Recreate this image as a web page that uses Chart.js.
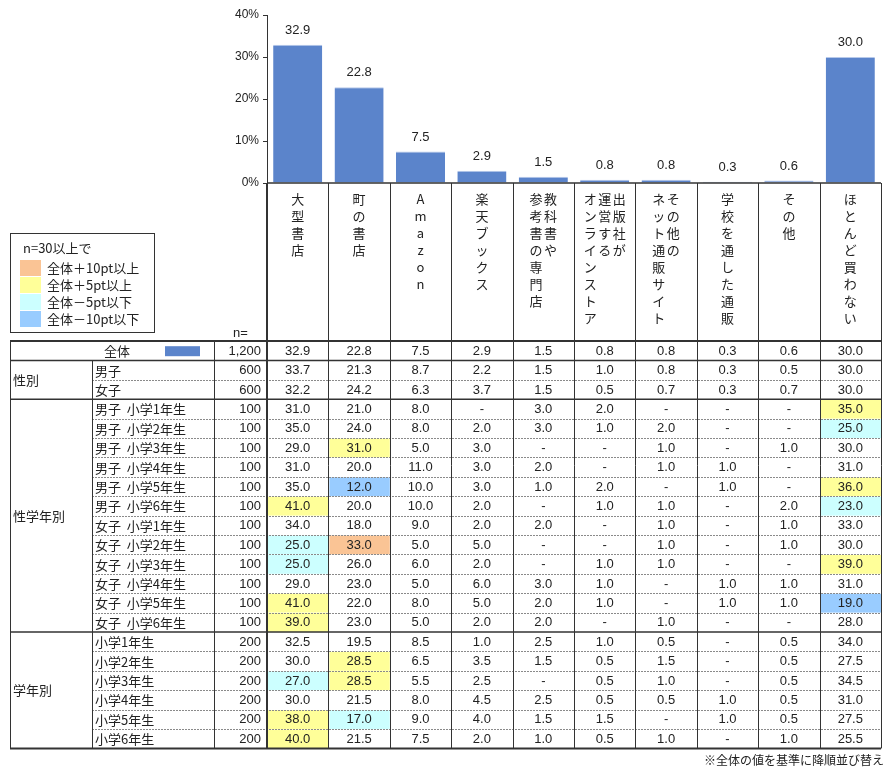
<!DOCTYPE html>
<html lang="ja">
<head>
<meta charset="utf-8">
<script src="https://cdn.jsdelivr.net/npm/chart.js@4.4.1/dist/chart.umd.min.js"></script>
<style>
  html, body { margin: 0; padding: 0; background: #fff; }
  #wrap { width: 886px; height: 772px; }
</style>
</head>
<body>
<div id="wrap"><canvas id="myChart" width="886" height="772"></canvas></div>
<script>
const ctx = document.getElementById('myChart');

// --- data ---
const categories = ['大型書店', '町の書店', 'Amazon', '楽天ブックス', '教科書や参考書の専門店',
  '出版社が運営するオンラインストア', 'その他のネット通販サイト', '学校を通した通販', 'その他', 'ほとんど買わない'];
// vertical label columns, right to left
const categoryColumns = [['大型書店'], ['町の書店'], ['Amazon'], ['楽天ブックス'], ['教科書や', '参考書の専門店'],
  ['出版社が', '運営する', 'オンラインストア'], ['その他の', 'ネット通販サイト'], ['学校を通した通販'], ['その他'], ['ほとんど買わない']];
const yTicks = [0, 10, 20, 30, 40];

const totalLabel = '全体';
const totalN = 1200;
const totalValues = [32.9, 22.8, 7.5, 2.9, 1.5, 0.8, 0.8, 0.3, 0.6, 30.0];

const genderGroup = '性別';
const genderLabels = ['男子', '女子'];
const genderN = [600, 600];
const genderValues = [
  [33.7, 21.3, 8.7, 2.2, 1.5, 1.0, 0.8, 0.3, 0.5, 30.0],
  [32.2, 24.2, 6.3, 3.7, 1.5, 0.5, 0.7, 0.3, 0.7, 30.0]
];

const genderGradeGroup = '性学年別';
const genderGradeLabels = ['男子  小学1年生', '男子  小学2年生', '男子  小学3年生', '男子  小学4年生', '男子  小学5年生', '男子  小学6年生',
  '女子  小学1年生', '女子  小学2年生', '女子  小学3年生', '女子  小学4年生', '女子  小学5年生', '女子  小学6年生'];
const genderGradeN = [100, 100, 100, 100, 100, 100, 100, 100, 100, 100, 100, 100];
const genderGradeValues = [
  [31.0, 21.0, 8.0, null, 3.0, 2.0, null, null, null, 35.0],
  [35.0, 24.0, 8.0, 2.0, 3.0, 1.0, 2.0, null, null, 25.0],
  [29.0, 31.0, 5.0, 3.0, null, null, 1.0, null, 1.0, 30.0],
  [31.0, 20.0, 11.0, 3.0, 2.0, null, 1.0, 1.0, null, 31.0],
  [35.0, 12.0, 10.0, 3.0, 1.0, 2.0, null, 1.0, null, 36.0],
  [41.0, 20.0, 10.0, 2.0, null, 1.0, 1.0, null, 2.0, 23.0],
  [34.0, 18.0, 9.0, 2.0, 2.0, null, 1.0, null, 1.0, 33.0],
  [25.0, 33.0, 5.0, 5.0, null, null, 1.0, null, 1.0, 30.0],
  [25.0, 26.0, 6.0, 2.0, null, 1.0, 1.0, null, null, 39.0],
  [29.0, 23.0, 5.0, 6.0, 3.0, 1.0, null, 1.0, 1.0, 31.0],
  [41.0, 22.0, 8.0, 5.0, 2.0, 1.0, null, 1.0, 1.0, 19.0],
  [39.0, 23.0, 5.0, 2.0, 2.0, null, 1.0, null, null, 28.0]
];

const gradeGroup = '学年別';
const gradeLabels = ['小学1年生', '小学2年生', '小学3年生', '小学4年生', '小学5年生', '小学6年生'];
const gradeN = [200, 200, 200, 200, 200, 200];
const gradeValues = [
  [32.5, 19.5, 8.5, 1.0, 2.5, 1.0, 0.5, null, 0.5, 34.0],
  [30.0, 28.5, 6.5, 3.5, 1.5, 0.5, 1.5, null, 0.5, 27.5],
  [27.0, 28.5, 5.5, 2.5, null, 0.5, 1.0, null, 0.5, 34.5],
  [30.0, 21.5, 8.0, 4.5, 2.5, 0.5, 0.5, 1.0, 0.5, 31.0],
  [38.0, 17.0, 9.0, 4.0, 1.5, 1.5, null, 1.0, 0.5, 27.5],
  [40.0, 21.5, 7.5, 2.0, 1.0, 0.5, 1.0, null, 1.0, 25.5]
];

const legendTitle = 'n=30以上で';
const legendLabels = ['全体＋10pt以上', '全体＋5pt以上', '全体－5pt以下', '全体－10pt以下'];
const footnote = '※全体の値を基準に降順並び替え';

// --- styles ---
const barColor = '#5b84cb';
const legendColors = ['#fac495', '#ffff99', '#ccffff', '#99ccff'];
const numFont = '13px "Liberation Sans Narrow", "Liberation Sans", "Noto Sans CJK JP", sans-serif';
const jpFont = '13px "Noto Sans CJK JP", sans-serif';
const lineColor = '#333';

function cellColor(v, base, n) {
  if (v == null || n < 30) return null;
  const d = Math.round((v - base) * 10) / 10;
  if (d >= 10) return legendColors[0];
  if (d >= 5) return legendColors[1];
  if (d <= -10) return legendColors[3];
  if (d <= -5) return legendColors[2];
  return null;
}

function fmt(v) {
  return v == null ? '-' : v.toFixed(1);
}

const groups = [
  { name: genderGroup, labels: genderLabels, n: genderN, values: genderValues },
  { name: genderGradeGroup, labels: genderGradeLabels, n: genderGradeN, values: genderGradeValues },
  { name: gradeGroup, labels: gradeLabels, n: gradeN, values: gradeValues }
];

const tableTop = 341;
const rowH = 19.4;
const colTable = 10, colSub = 92, colN = 214;

function line(c, x1, y1, x2, y2, w, color, dash) {
  c.save();
  c.beginPath();
  c.lineWidth = w;
  c.strokeStyle = color;
  c.setLineDash(dash || []);
  c.moveTo(x1, y1);
  c.lineTo(x2, y2);
  c.stroke();
  c.restore();
}

function drawVertical(c, text, cx, top, step) {
  Array.from(text).forEach((ch, i) => {
    c.fillText(ch, cx, top + i * step);
  });
}

const valueLabels = {
  id: 'valueLabels',
  afterDatasetsDraw(chart) {
    const c = chart.ctx;
    const meta = chart.getDatasetMeta(0);
    c.save();
    c.font = numFont;
    c.fillStyle = '#222';
    c.textAlign = 'center';
    c.textBaseline = 'bottom';
    meta.data.forEach((bar, i) => {
      c.fillText(totalValues[i].toFixed(1), bar.x, bar.y - 8);
    });
    c.restore();
  }
};

const crossTable = {
  id: 'crossTable',
  afterDraw(chart) {
    const c = chart.ctx;
    const xs = chart.scales.x;
    const ys = chart.scales.y;
    const colW = xs.getPixelForValue(1) - xs.getPixelForValue(0);
    const dataLeft = xs.getPixelForValue(0) - colW / 2;
    const right = dataLeft + colW * categories.length;
    const axisY = ys.getPixelForValue(0);
    const rowCount = 1 + groups.reduce((s, g) => s + g.labels.length, 0);
    const tableBottom = tableTop + rowCount * rowH;

    c.save();

    // header labels (vertical)
    c.font = jpFont;
    c.fillStyle = '#222';
    c.textAlign = 'center';
    c.textBaseline = 'middle';
    categoryColumns.forEach((cols, i) => {
      const cx = xs.getPixelForValue(i);
      const gap = 14.5;
      cols.forEach((txt, k) => {
        const off = ((cols.length - 1) / 2 - k) * gap;
        drawVertical(c, txt, cx + off, 199, 17);
      });
    });
    c.textAlign = 'left';
    c.font = numFont;
    c.fillText('n=', 233, 333);

    // legend box
    c.strokeStyle = lineColor;
    c.lineWidth = 1;
    c.strokeRect(10.5, 233.5, 144, 99);
    c.font = jpFont;
    c.fillStyle = '#222';
    c.fillText(legendTitle, 23, 248);
    legendLabels.forEach((lab, i) => {
      const yy = 260 + i * 17;
      c.fillStyle = legendColors[i];
      c.fillRect(20, yy, 21, 16);
      c.fillStyle = '#222';
      c.fillText(lab, 47, yy + 8.5);
    });

    // rows
    const rows = [{ label: totalLabel, n: totalN, values: totalValues, total: true }];
    const groupSpans = [];
    groups.forEach(g => {
      const start = rows.length;
      g.labels.forEach((lab, i) => rows.push({ label: lab, n: g.n[i], values: g.values[i] }));
      groupSpans.push({ name: g.name, start: start, end: rows.length });
    });

    // fills
    rows.forEach((r, ri) => {
      if (r.total) return;
      const top = tableTop + ri * rowH;
      r.values.forEach((v, ci) => {
        const col = cellColor(v, totalValues[ci], r.n);
        if (col) {
          c.fillStyle = col;
          c.fillRect(dataLeft + ci * colW + 1, top + 0.5, colW - 1, rowH - 0.5);
        }
      });
    });

    // texts
    c.textBaseline = 'middle';
    rows.forEach((r, ri) => {
      const cy = tableTop + ri * rowH + rowH / 2 + 0.5;
      c.fillStyle = '#222';
      c.font = jpFont;
      if (r.total) {
        c.textAlign = 'center';
        c.fillText(r.label, 117, cy);
        c.fillStyle = barColor;
        c.fillRect(165, cy - 5, 35, 10);
        c.fillStyle = '#222';
      } else {
        c.textAlign = 'left';
        c.fillText(r.label, colSub + 3, cy);
      }
      c.font = numFont;
      c.textAlign = 'right';
      c.fillText(r.n.toLocaleString('en-US'), dataLeft - 6, cy);
      c.textAlign = 'center';
      r.values.forEach((v, ci) => {
        c.fillText(fmt(v), xs.getPixelForValue(ci), cy);
      });
    });
    c.font = jpFont;
    c.textAlign = 'left';
    groupSpans.forEach(gs => {
      const cy = tableTop + (gs.start + gs.end) / 2 * rowH;
      c.fillText(gs.name, colTable + 3, cy);
    });

    // horizontal lines
    line(c, colTable, tableTop, right, tableTop, 2, lineColor);
    groupSpans.forEach(gs => {
      line(c, colTable, tableTop + gs.start * rowH, right, tableTop + gs.start * rowH, 1.5, lineColor);
      for (let k = gs.start + 1; k < gs.end; k++) {
        const yy = Math.round(tableTop + k * rowH) + 0.5;
        line(c, colSub, yy, right, yy, 1, '#8a8a8a', [2, 1]);
      }
    });
    line(c, colTable, tableBottom, right, tableBottom, 2, lineColor);

    // vertical lines
    line(c, colTable + 0.5, tableTop, colTable + 0.5, tableBottom, 1, lineColor);
    line(c, colSub + 0.5, tableTop + rowH, colSub + 0.5, tableBottom, 1, lineColor);
    line(c, colN + 0.5, tableTop, colN + 0.5, tableBottom, 1, lineColor);
    line(c, dataLeft, axisY, dataLeft, tableBottom, 2, lineColor);
    for (let i = 1; i <= categories.length; i++) {
      const xx = Math.round(dataLeft + i * colW) + 0.5;
      line(c, xx, axisY, xx, tableBottom, 1, lineColor);
    }
    line(c, dataLeft, axisY, right, axisY, 1.5, lineColor);

    // footnote
    c.font = '12px "Noto Sans CJK JP", sans-serif';
    c.fillStyle = '#222';
    c.textAlign = 'right';
    c.fillText(footnote, 884, 760);

    c.restore();
  }
};

new Chart(ctx, {
  type: 'bar',
  data: {
    labels: categories,
    datasets: [{
      label: totalLabel,
      data: totalValues,
      backgroundColor: barColor,
      borderColor: '#b7c9ea',
      borderWidth: { top: 1, left: 0, right: 0, bottom: 0 },
      borderSkipped: 'bottom',
      barPercentage: 0.8,
      categoryPercentage: 1.0
    }]
  },
  options: {
    responsive: false,
    animation: false,
    layout: { padding: { left: 227, right: 5, top: 15, bottom: 589 } },
    plugins: {
      legend: { display: false },
      tooltip: { enabled: false }
    },
    scales: {
      x: {
        grid: { display: false },
        border: { display: false },
        ticks: { display: false },
        afterFit: function(scale) { scale.height = 0; }
      },
      y: {
        min: 0,
        max: 40,
        afterBuildTicks: function(scale) { scale.ticks = yTicks.map(v => ({ value: v })); },
        afterFit: function(scale) { scale.width = 40; },
        grid: { drawOnChartArea: false, tickLength: 4, color: lineColor },
        border: { color: lineColor, width: 1 },
        ticks: {
          padding: 4,
          color: '#222',
          font: { family: '"Liberation Sans", sans-serif', size: 12 },
          callback: function(v) { return v + '%'; }
        }
      }
    }
  },
  plugins: [valueLabels, crossTable]
});
</script>
</body>
</html>
